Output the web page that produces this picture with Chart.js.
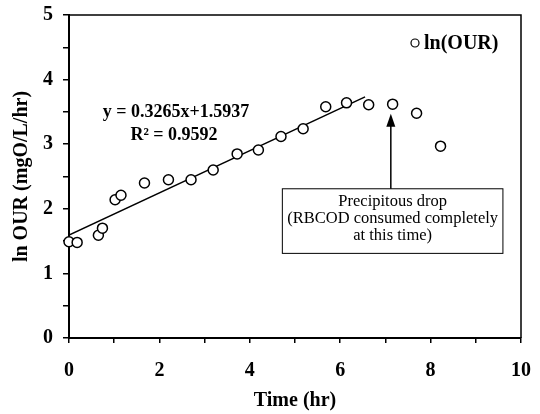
<!DOCTYPE html>
<html>
<head>
<meta charset="utf-8">
<title>ln(OUR) vs Time</title>
<script src="https://cdn.jsdelivr.net/npm/chart.js@4"></script>
<style>
  html, body { margin: 0; padding: 0; background: #fff; }
  #wrap { width: 540px; height: 414px; }
</style>
</head>
<body>
<div id="wrap"><canvas id="ourChart" width="540" height="414"></canvas></div>
<script>
// --- DATA ---
const timeHr = [0.0, 0.18, 0.65, 0.74, 1.02, 1.15, 1.67, 2.20, 2.70, 3.19, 3.72, 4.19, 4.69, 5.18, 5.68, 6.14, 6.63, 7.16, 7.69, 8.22];
const lnOUR  = [1.49, 1.48, 1.59, 1.70, 2.14, 2.21, 2.40, 2.45, 2.45, 2.60, 2.85, 2.91, 3.12, 3.24, 3.58, 3.64, 3.61, 3.62, 3.48, 2.97];

// fitted line as drawn (end points)
const trendX = [0, 6.55];
const trendY = [1.5937, 3.732];

const eqText = ["y = 0.3265x+1.5937", "R\u00B2 = 0.9592"];
const noteText = ["Precipitous drop", "(RBCOD consumed completely", "at this time)"];
const legendLabel = "ln(OUR)";

const SERIF = "'Liberation Serif', 'Times New Roman', serif";

// --- ANNOTATIONS (drawn through the scales) ---
const notes = {
    id: "notes",
    afterDraw(chart) {
        const ctx = chart.ctx;
        const xs = chart.scales.x, ys = chart.scales.y;
        const area = chart.chartArea;
        ctx.save();

        // top and right frame
        ctx.strokeStyle = "#000";
        ctx.lineWidth = 1.5;
        ctx.beginPath();
        ctx.moveTo(area.left, area.top);
        ctx.lineTo(area.right, area.top);
        ctx.lineTo(area.right, area.bottom);
        ctx.stroke();

        // equation
        ctx.fillStyle = "#000";
        ctx.font = "bold 18px " + SERIF;
        ctx.textAlign = "center";
        ctx.textBaseline = "middle";
        ctx.fillText(eqText[0], 176, 112);
        ctx.fillText(eqText[1], 174, 135);

        // legend
        ctx.beginPath();
        ctx.arc(415, 43, 4, 0, Math.PI * 2);
        ctx.lineWidth = 1.2;
        ctx.stroke();
        ctx.textAlign = "left";
        ctx.font = "bold 20px " + SERIF;
        ctx.fillText(legendLabel, 424, 44);

        // note box
        const bx1 = xs.getPixelForValue(4.72), bx2 = xs.getPixelForValue(9.6);
        const by1 = ys.getPixelForValue(2.31), by2 = ys.getPixelForValue(1.31);
        ctx.fillStyle = "#fff";
        ctx.fillRect(bx1, by1, bx2 - bx1, by2 - by1);
        ctx.strokeStyle = "#000";
        ctx.lineWidth = 1;
        ctx.strokeRect(bx1, by1, bx2 - bx1, by2 - by1);
        ctx.fillStyle = "#000";
        ctx.font = "16.5px " + SERIF;
        ctx.textAlign = "center";
        const cx = (bx1 + bx2) / 2;
        noteText.forEach((t, i) => ctx.fillText(t, cx, by1 + 13 + i * 17));

        // arrow
        const ax = xs.getPixelForValue(7.12);
        const tip = ys.getPixelForValue(3.47);
        ctx.lineWidth = 1.5;
        ctx.beginPath();
        ctx.moveTo(ax, by1);
        ctx.lineTo(ax, tip + 10);
        ctx.stroke();
        ctx.beginPath();
        ctx.moveTo(ax, tip);
        ctx.lineTo(ax - 4.5, tip + 13);
        ctx.lineTo(ax + 4.5, tip + 13);
        ctx.closePath();
        ctx.fill();

        ctx.restore();
    }
};

// --- CHART ---
function initChart() {
    const ctx = document.getElementById("ourChart");
    const points = timeHr.map((t, i) => ({ x: t, y: lnOUR[i] }));
    const trend = trendX.map((t, i) => ({ x: t, y: trendY[i] }));

    new Chart(ctx, {
        type: "scatter",
        data: {
            datasets: [{
                label: legendLabel,
                data: points,
                pointRadius: 5,
                pointHoverRadius: 5,
                pointBackgroundColor: "#fff",
                pointBorderColor: "#000",
                pointBorderWidth: 1.5,
                clip: false,
                order: 1
            }, {
                label: "trend",
                data: trend,
                showLine: true,
                borderColor: "#000",
                borderWidth: 1.5,
                pointRadius: 0,
                order: 2
            }]
        },
        options: {
            responsive: false,
            animation: false,
            layout: { padding: { left: 0, right: 19, top: 15, bottom: 0 } },
            plugins: { legend: { display: false }, tooltip: { enabled: false } },
            scales: {
                x: {
                    type: "linear",
                    min: 0, max: 10,
                    afterFit: (s) => { s.height = 76; },
                    ticks: {
                        stepSize: 1,
                        padding: 2,
                        color: "#000",
                        // tall line height pushes the labels down without widening the side padding
                        font: { family: SERIF, size: 20, weight: "bold", lineHeight: "52px" },
                        callback: (v) => (v % 2 === 0 ? v : "")
                    },
                    grid: { drawOnChartArea: false, tickLength: 5, color: "#000", lineWidth: 1.5 },
                    border: { color: "#000", width: 2 },
                    title: {
                        display: true,
                        text: "Time (hr)",
                        color: "#000",
                        font: { family: SERIF, size: 20, weight: "bold" },
                        padding: { top: 0, bottom: 1 }
                    }
                },
                y: {
                    type: "linear",
                    min: 0, max: 5,
                    afterFit: (s) => { s.width = 69; },
                    ticks: {
                        stepSize: 0.5,
                        padding: 10,
                        color: "#000",
                        font: { family: SERIF, size: 20, weight: "bold", lineHeight: "8px" },
                        callback: (v) => (Number.isInteger(v) ? v : "")
                    },
                    grid: { drawOnChartArea: false, tickLength: 6, color: "#000", lineWidth: 1.5 },
                    border: { color: "#000", width: 2 },
                    title: {
                        display: true,
                        text: "ln OUR (mgO/L/hr)",
                        color: "#000",
                        font: { family: SERIF, size: 20, weight: "bold" },
                        padding: { top: 10, bottom: 0 }
                    }
                }
            }
        },
        plugins: [notes]
    });
}

window.onload = initChart;
</script>
</body>
</html>
